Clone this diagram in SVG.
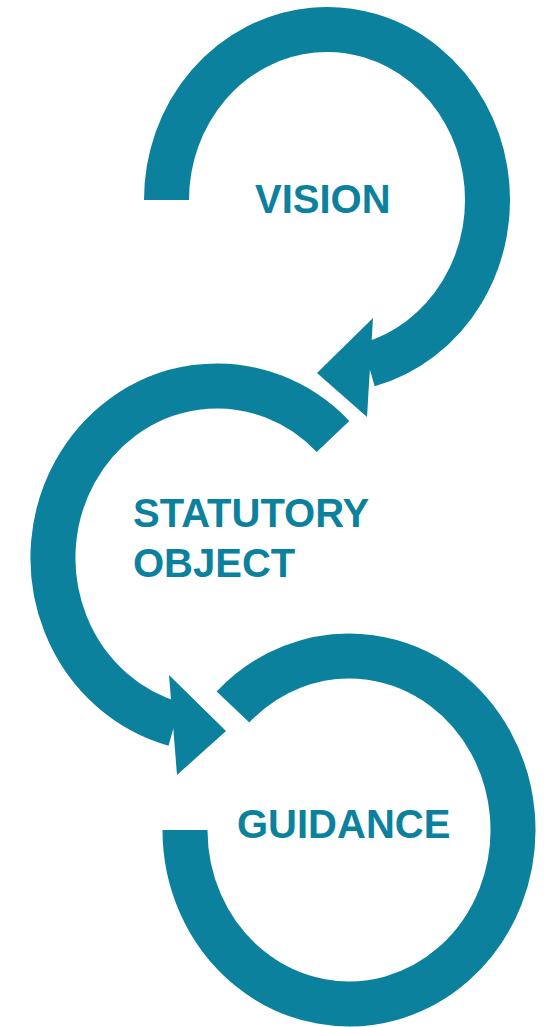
<svg xmlns="http://www.w3.org/2000/svg" width="549" height="1027" viewBox="0 0 549 1027">
<style>
.ring{fill:none;stroke:#0b819e;stroke-width:45;stroke-linecap:butt}
.head{fill:#0b819e;stroke:none}
.lbl{font-family:"Liberation Sans",Arial,sans-serif;font-weight:bold;font-size:40px;fill:#0b819e}
</style>
<g id="connectors">
<path class="ring" d="M166.5,200 A160.5,170.5 0 1 1 368.5,364.7"/>
<polygon class="head" points="373,318 317,373 367,417"/>
<path class="ring" d="M333,436.4 A164,172 0 1 0 174.6,724.1"/>
<polygon class="head" points="169,675 226,731 177,775"/>
<path class="ring" d="M233,707 A164,174 0 1 1 185,830"/>
</g>
<g id="vision"><text class="lbl" x="255" y="213">VISION</text></g>
<g id="statutory-object"><text class="lbl" x="133" y="527">STATUTORY</text><text class="lbl" x="133" y="577">OBJECT</text></g>
<g id="guidance"><text class="lbl" x="237" y="838">GUIDANCE</text></g>
</svg>
